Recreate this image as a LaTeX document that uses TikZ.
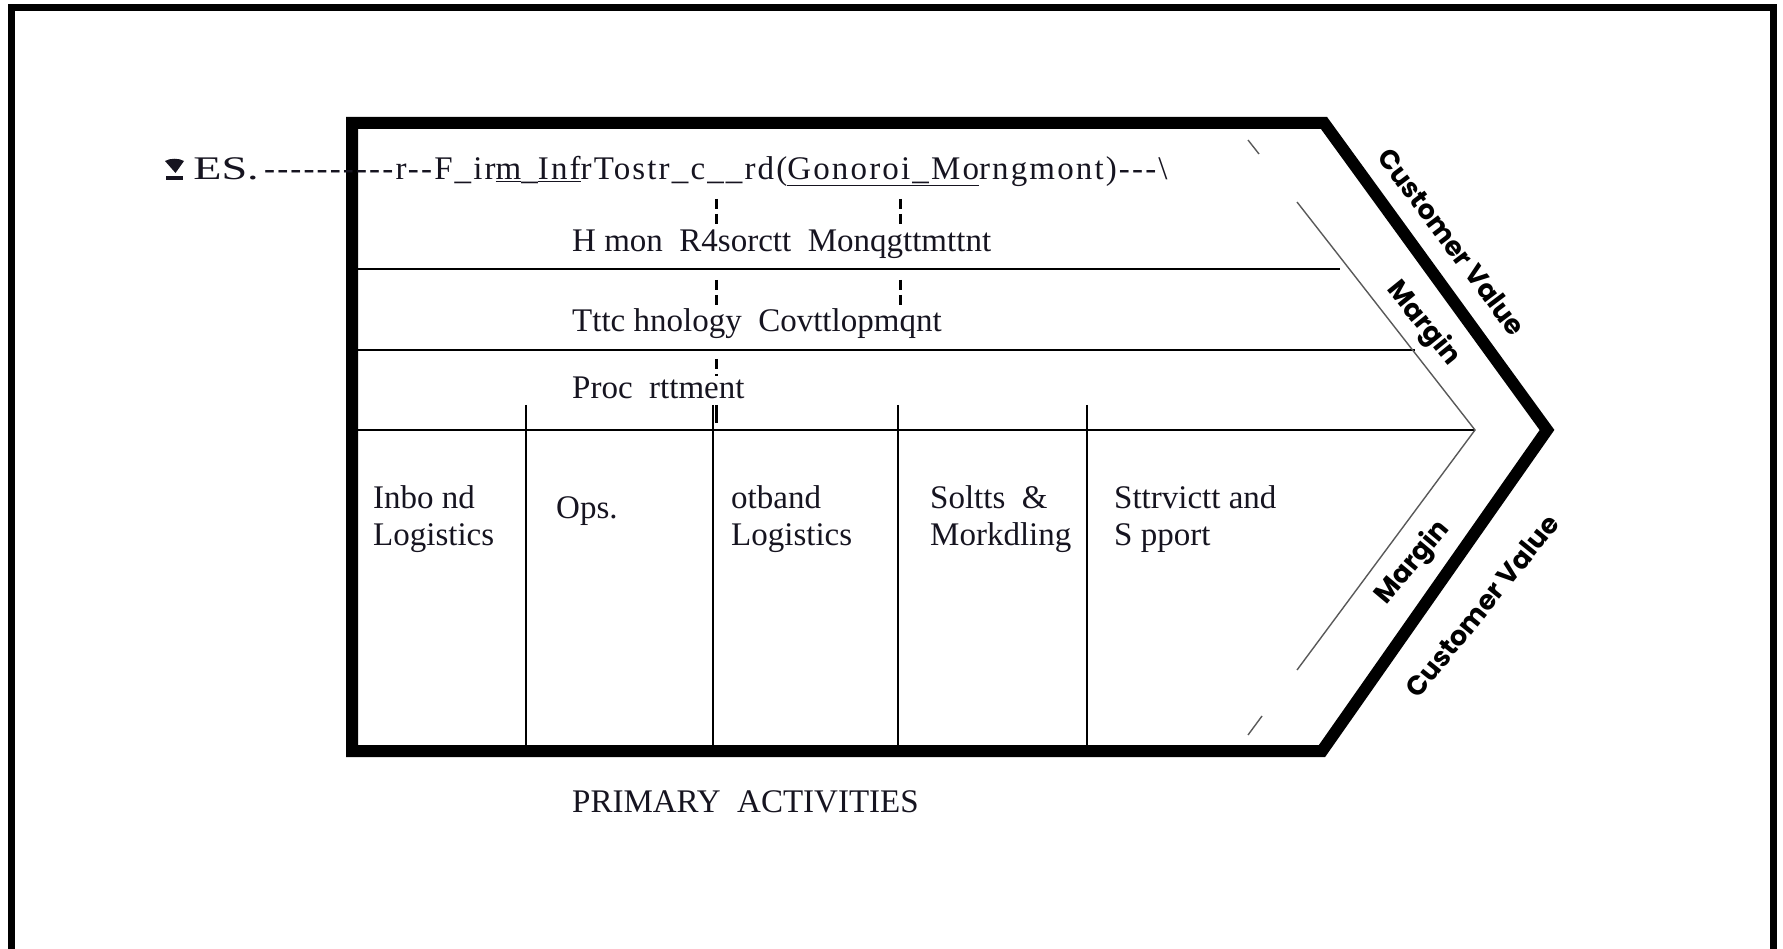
\documentclass[tikz,border=0pt]{standalone}
\usepackage{fontspec}
\newfontfamily\serifface{Liberation Serif}
\newfontfamily\slantface{Poppins}
\definecolor{ink}{RGB}{22,20,32}
\begin{document}
\begin{tikzpicture}[x=1pt,y=-1pt,
  outerframe/.style={line width=7pt},
  chevron/.style={line width=12pt, line join=miter},
  rule/.style={line width=1.6pt},
  marginline/.style={line width=1.4pt, draw=black!65},
  guide/.style={line width=3pt, dash pattern=on 10pt off 5pt},
  lbl/.style={font=\serifface\fontsize{33}{37}\selectfont, text=ink, inner sep=0pt, anchor=base west},
  cell/.style={lbl, align=left},
  slant/.style={font=\slantface\bfseries\fontsize{27}{31}\selectfont, inner sep=0pt}
]
\useasboundingbox (0,0) rectangle (1783,949);

% outer frame, open at the bottom
\draw[outerframe] (11,949) -- (11,8) -- (1773,8) -- (1773,949);

% value chain arrow
\draw[chevron] (352,751) -- (352,123) -- (1324,123) -- (1547,430) -- (1322,751) -- cycle;

% support activity rows
\coordinate (r1a) at (352,269); \coordinate (r1b) at (1340,269);
\coordinate (r2a) at (352,350); \coordinate (r2b) at (1415,350);
\coordinate (r3a) at (352,430); \coordinate (r3b) at (1475,430);
\draw[rule] (r1a) -- (r1b);
\draw[rule] (r2a) -- (r2b);
\draw[rule] (r3a) -- (r3b);

% primary activity columns
\foreach \cx [count=\i] in {526,713,898,1087} {
  \coordinate (c\i a) at (\cx,405);
  \coordinate (c\i b) at (\cx,751);
  \draw[rule] (c\i a) -- (c\i b);
}

% dashed guides through the support rows
\draw[guide] (716,199) -- (716,227);
\draw[guide] (900,199) -- (900,227);
\draw[guide] (716,280) -- (716,308);
\draw[guide] (900,280) -- (900,308);
\draw[guide] (716,359) -- (716,376);
\draw[line width=3pt] (716,405) -- (716,423);

% margin lines
\coordinate (mt) at (1297,202);
\coordinate (mtip) at (1475,430);
\coordinate (mb) at (1297,670);
\draw[marginline] (mt) -- (mtip) -- (mb);
\draw[marginline] (1248,140) -- (1259,154);
\draw[marginline] (1248,735) -- (1262,716);

% marker in front of the first row
\fill[ink] (165,161) .. controls (170,158) and (179,158) .. (184,161) -- (175.5,173) -- cycle;
\fill[ink] (166,176) rectangle (183,180);

% labels
\node[lbl, xscale=1.4] (es) at (193,180) {ES.};
\node[lbl, font=\serifface\addfontfeature{LetterSpace=6.5}\fontsize{33}{37}\selectfont] (firm) at (264,180) {----------r--F\_ir\underline{m}\_\underline{Inf}rTostr\_c\_\_rd(\underline{Gonoroi\_Mo}rngmont)---\textbackslash};
\node[lbl] (hr) at (572,252) {H mon\ \ R4sorctt\ \ Monqgttmttnt};
\node[lbl] (tech) at (572,332) {Tttc hnology\ \ Covttlopmqnt};
\node[lbl] (proc) at (572,399) {Proc\ \ rttment};

\node[cell] (inb) at (373,545) {Inbo nd\\Logistics};
\node[lbl] (ops) at (556,518) {Ops.};
\node[cell] (outb) at (731,545) {otband\\Logistics};
\node[cell] (sales) at (930,545) {Soltts\ \ \&\\Morkdling};
\node[cell] (serv) at (1114,545) {Sttrvictt and\\S pport};

\node[lbl] (prim) at (572,812) {PRIMARY\ \ ACTIVITIES};

\node[slant, rotate=-53] (cvtop) at (1452,242) {Customer Value};
\node[slant, rotate=-51] (mgtop) at (1423,324) {Margin};
\node[slant, rotate=50] (mgbot) at (1413,563) {Margin};
\node[slant, rotate=51] (cvbot) at (1482,606) {Customer Value};
\end{tikzpicture}
\end{document}
